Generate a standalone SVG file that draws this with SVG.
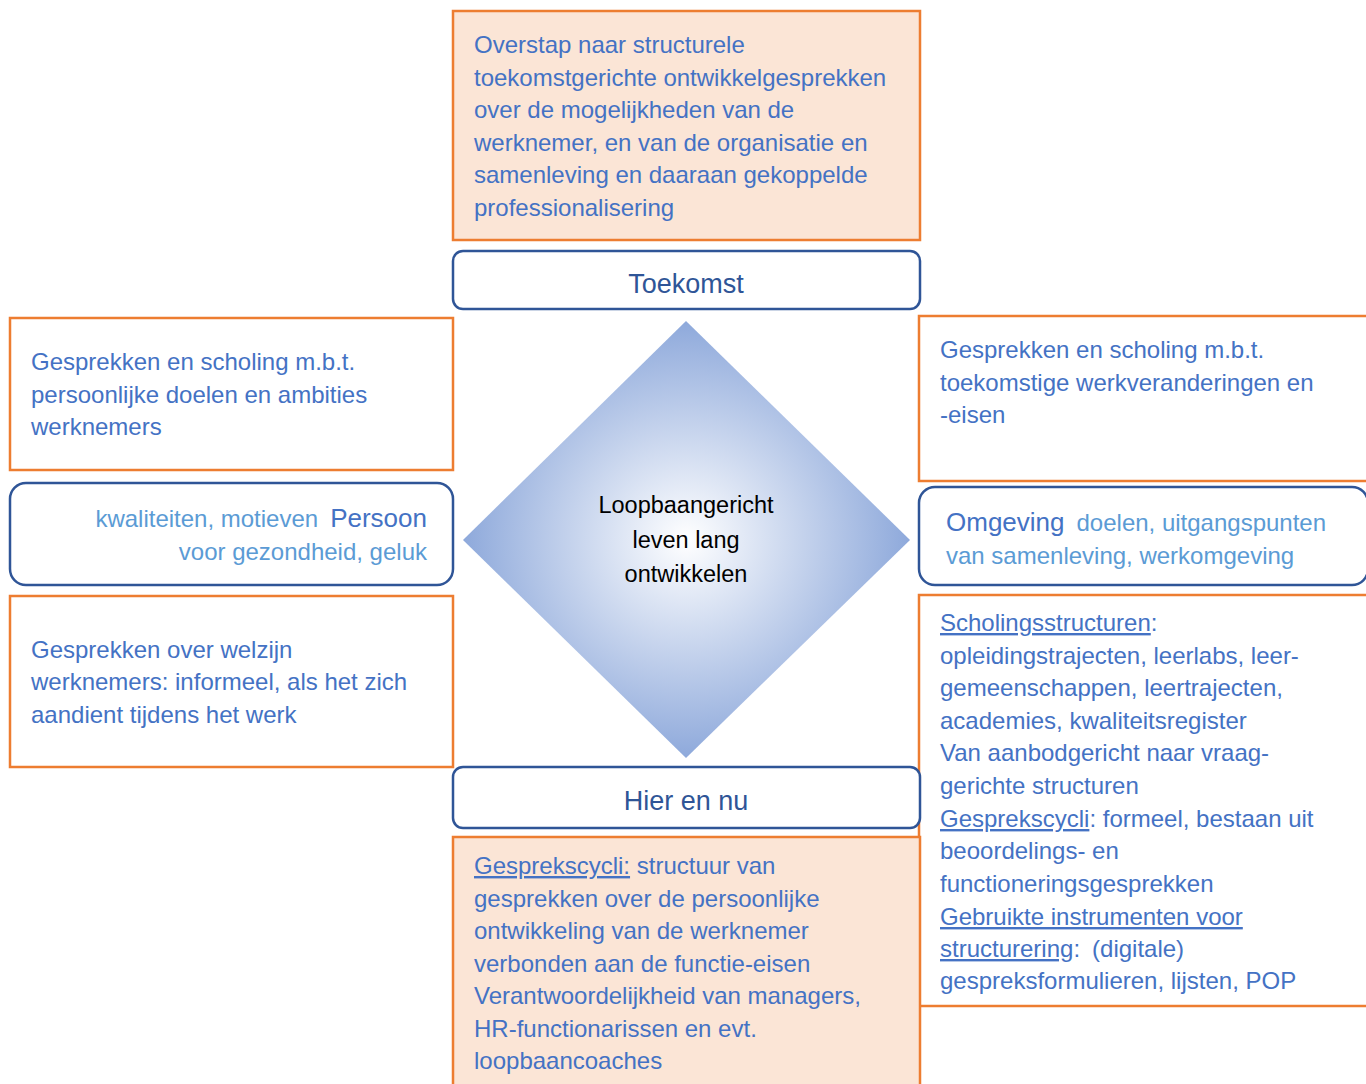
<svg xmlns="http://www.w3.org/2000/svg" width="1366" height="1084" viewBox="0 0 1366 1084">
<defs>
<radialGradient id="dg" cx="50%" cy="50%" r="50%">
<stop offset="0" stop-color="#FFFFFF"/>
<stop offset="1" stop-color="#8EA9DB"/>
</radialGradient>
<style>
.ob{fill:#FFFFFF;stroke:#ED7D31;stroke-width:2.5}
.op{fill:#FBE5D6;stroke:#ED7D31;stroke-width:2.5}
.bb{fill:#FFFFFF;stroke:#2F5597;stroke-width:2.5}
.t{font-family:"Liberation Sans",Arial,sans-serif;font-size:24px;fill:#4472C4}
.lt{font-family:"Liberation Sans",Arial,sans-serif;font-size:24px;fill:#5B9BD5}
.h{font-family:"Liberation Sans",Arial,sans-serif;font-size:27px;fill:#2F5597;text-anchor:middle}
.k{font-family:"Liberation Sans",Arial,sans-serif;font-size:26px;fill:#4472C4}
.c{font-family:"Liberation Sans",Arial,sans-serif;font-size:23.5px;fill:#000000;text-anchor:middle}
.u{text-decoration:underline}
</style>
</defs>
<rect width="1366" height="1084" fill="#FFFFFF"/>
<g id="connectors"></g>

<g id="top-text">
<rect class="op" x="453" y="11" width="467" height="229"/>
<text class="t" x="474" y="53">Overstap naar structurele</text>
<text class="t" x="474" y="86">toekomstgerichte ontwikkelgesprekken</text>
<text class="t" x="474" y="118">over de mogelijkheden van de</text>
<text class="t" x="474" y="151">werknemer, en van de organisatie en</text>
<text class="t" x="474" y="183">samenleving en daaraan gekoppelde</text>
<text class="t" x="474" y="216">professionalisering</text>
</g>

<g id="toekomst">
<rect class="bb" x="453" y="251" width="467" height="58" rx="10"/>
<text class="h" x="686" y="293">Toekomst</text>
</g>

<g id="left-top">
<rect class="ob" x="10" y="318" width="443" height="152"/>
<text class="t" x="31" y="370">Gesprekken en scholing m.b.t.</text>
<text class="t" x="31" y="403">persoonlijke doelen en ambities</text>
<text class="t" x="31" y="435">werknemers</text>
</g>

<g id="persoon">
<rect class="bb" x="10" y="483" width="443" height="102" rx="16"/>
<text x="427" y="527" text-anchor="end"><tspan class="lt">kwaliteiten, motieven</tspan><tspan class="k" dx="12">Persoon</tspan></text>
<text class="lt" x="427" y="560" text-anchor="end">voor gezondheid, geluk</text>
</g>

<g id="left-bottom">
<rect class="ob" x="10" y="596" width="443" height="171"/>
<text class="t" x="31" y="658">Gesprekken over welzijn</text>
<text class="t" x="31" y="690">werknemers: informeel, als het zich</text>
<text class="t" x="31" y="723">aandient tijdens het werk</text>
</g>

<g id="right-top">
<rect class="ob" x="919" y="316" width="449" height="165"/>
<text class="t" x="940" y="358">Gesprekken en scholing m.b.t.</text>
<text class="t" x="940" y="391">toekomstige werkveranderingen en</text>
<text class="t" x="940" y="423">-eisen</text>
</g>

<g id="omgeving">
<rect class="bb" x="919" y="487" width="449" height="98" rx="16"/>
<text x="946" y="531"><tspan class="k">Omgeving</tspan><tspan class="lt" dx="12">doelen, uitgangspunten</tspan></text>
<text class="lt" x="946" y="564">van samenleving, werkomgeving</text>
</g>

<g id="right-bottom">
<rect class="ob" x="919" y="595" width="449" height="411"/>
<text class="t" x="940" y="631"><tspan class="u">Scholingsstructuren</tspan>:</text>
<text class="t" x="940" y="664">opleidingstrajecten, leerlabs, leer-</text>
<text class="t" x="940" y="696">gemeenschappen, leertrajecten,</text>
<text class="t" x="940" y="729">academies, kwaliteitsregister</text>
<text class="t" x="940" y="761">Van aanbodgericht naar vraag-</text>
<text class="t" x="940" y="794">gerichte structuren</text>
<text class="t" x="940" y="827"><tspan class="u">Gesprekscycli</tspan>: formeel, bestaan uit</text>
<text class="t" x="940" y="859">beoordelings- en</text>
<text class="t" x="940" y="892">functioneringsgesprekken</text>
<text class="t" x="940" y="925"><tspan class="u">Gebruikte instrumenten voor</tspan></text>
<text class="t" x="940" y="957"><tspan class="u">structurering</tspan>:<tspan dx="12">(digitale)</tspan></text>
<text class="t" x="940" y="989">gespreksformulieren, lijsten, POP</text>
</g>

<g id="center">
<polygon points="686,321 910,540 686,758 463,540" fill="url(#dg)"/>
<text class="c" x="686" y="513">Loopbaangericht</text>
<text class="c" x="686" y="548">leven lang</text>
<text class="c" x="686" y="582">ontwikkelen</text>
</g>

<g id="hier-en-nu">
<rect class="bb" x="453" y="767" width="467" height="61" rx="10"/>
<text class="h" x="686" y="810">Hier en nu</text>
</g>

<g id="bottom-text">
<rect class="op" x="453" y="837" width="467" height="260"/>
<text class="t" x="474" y="874"><tspan class="u">Gesprekscycli:</tspan> structuur van</text>
<text class="t" x="474" y="907">gesprekken over de persoonlijke</text>
<text class="t" x="474" y="939">ontwikkeling van de werknemer</text>
<text class="t" x="474" y="972">verbonden aan de functie-eisen</text>
<text class="t" x="474" y="1004">Verantwoordelijkheid van managers,</text>
<text class="t" x="474" y="1037">HR-functionarissen en evt.</text>
<text class="t" x="474" y="1069">loopbaancoaches</text>
</g>
</svg>
